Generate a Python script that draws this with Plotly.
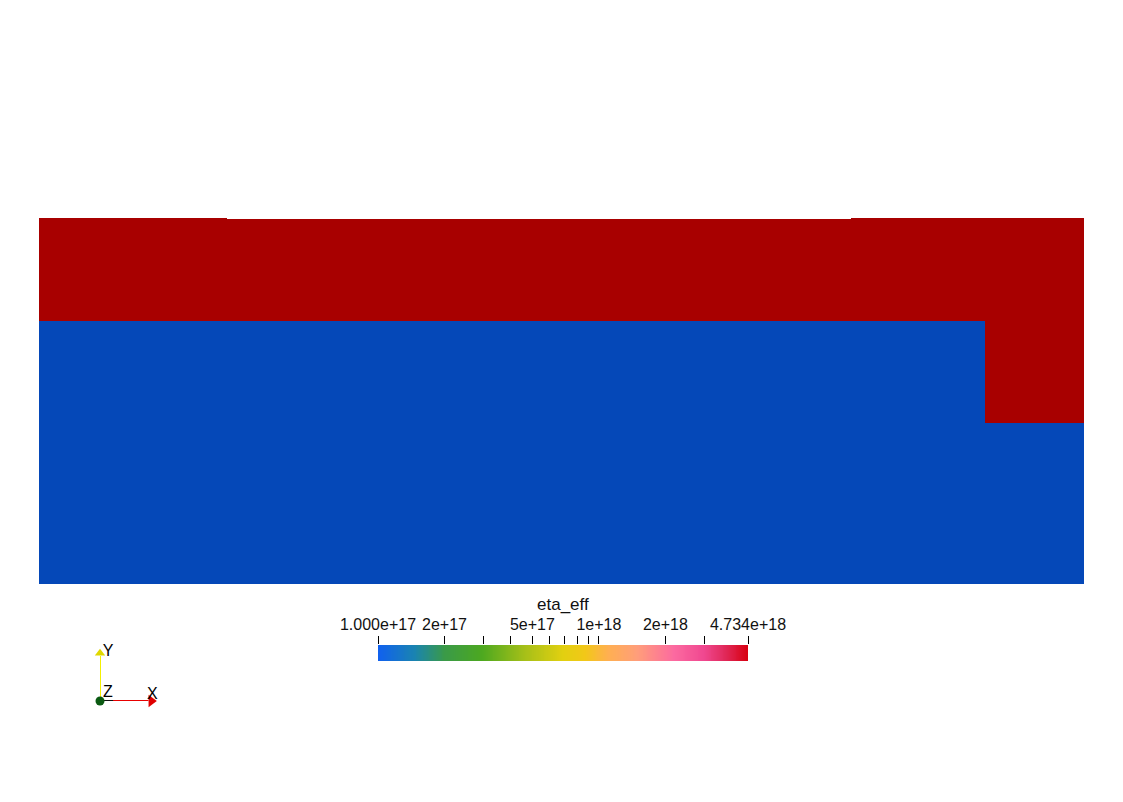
import numpy as np
import plotly.graph_objects as go

W, H = 1123, 802
OFF = 8  # page body margin in the browser

# ---- model domain (km) and effective viscosity field ----
x_edges = [0, 360, 1554, 1810, 2000]
y_edges = [-700, -392, -197, -2, 0]
ETA_MIN, ETA_MAX = 1.0e17, 4.734e18
eta_rows = [
    [ETA_MIN, ETA_MIN, ETA_MIN, ETA_MIN],
    [ETA_MIN, ETA_MIN, ETA_MIN, ETA_MAX],
    [ETA_MAX, ETA_MAX, ETA_MAX, ETA_MAX],
    [ETA_MAX, np.nan, ETA_MAX, ETA_MAX],
]

# ---- colour bar ----
cbar_tick_values = [1e17, 2e17, 3e17, 4e17, 5e17, 6e17, 7e17, 8e17, 9e17,
                    1e18, 2e18, 3e18, 4.734e18]
cbar_tick_labels = ["1.000e+17", "2e+17", "", "", "5e+17", "", "", "", "",
                    "1e+18", "2e+18", "", "4.734e+18"]
cbar_colors = [
    [0.00, "#1060f0"], [0.10, "#1a84b0"], [0.18, "#3a9a48"], [0.28, "#4ca820"],
    [0.40, "#a8c018"], [0.50, "#e2d010"], [0.56, "#f2c818"], [0.62, "#ffb050"],
    [0.70, "#ff9e7a"], [0.80, "#fc6aa0"], [0.88, "#f04890"], [0.94, "#e02858"],
    [1.00, "#d80010"],
]
mesh_colors = [[0, "#0548b8"], [1, "#a80000"]]

# ---- orientation triad (unit vectors) ----
triad_origin = [0, 0]
triad_x_end = [1, 0]
triad_y_end = [0, 1]


def dom_x(a, b):
    return [(a - OFF) / W, (b - OFF) / W]


def dom_y(top, bottom):
    return [1 - (bottom - OFF) / H, 1 - (top - OFF) / H]


lmin, lmax = np.log10(ETA_MIN), np.log10(ETA_MAX)
z = np.log10(np.array(eta_rows, dtype=float))

fig = go.Figure()

fig.add_trace(go.Heatmap(
    x=x_edges, y=y_edges, z=z, zmin=lmin, zmax=lmax,
    colorscale=mesh_colors, showscale=False, hoverinfo="skip",
    xaxis="x", yaxis="y"))

grad = np.linspace(lmin, lmax, 400)
fig.add_trace(go.Heatmap(
    x=grad, y=[0, 1], z=[grad], zmin=lmin, zmax=lmax,
    colorscale=cbar_colors, showscale=False, hoverinfo="skip",
    xaxis="x2", yaxis="y2"))

# triad
fig.add_trace(go.Scatter(x=[triad_origin[0], triad_y_end[0]], y=[triad_origin[1], triad_y_end[1] * 0.85],
                         mode="lines", line=dict(color="#f4f000", width=2),
                         xaxis="x3", yaxis="y3", cliponaxis=False, hoverinfo="skip"))
fig.add_trace(go.Scatter(x=[triad_origin[0], triad_x_end[0] * 0.85], y=[triad_origin[1], triad_x_end[1]],
                         mode="lines", line=dict(color="#e80000", width=2),
                         xaxis="x3", yaxis="y3", cliponaxis=False, hoverinfo="skip"))
fig.add_trace(go.Scatter(x=[triad_x_end[0] * 0.07, triad_x_end[0] * 0.23], y=[0, 0],
                         mode="lines", line=dict(color="#111111", width=2),
                         xaxis="x3", yaxis="y3", cliponaxis=False, hoverinfo="skip"))
fig.add_trace(go.Scatter(x=[triad_y_end[0]], y=[triad_y_end[1] * 0.9],
                         mode="markers", marker=dict(symbol="triangle-up", size=9, color="#e0d800"),
                         xaxis="x3", yaxis="y3", cliponaxis=False, hoverinfo="skip"))
fig.add_trace(go.Scatter(x=[triad_x_end[0] * 0.9], y=[triad_x_end[1]],
                         mode="markers", marker=dict(symbol="triangle-right", size=11, color="#e00000"),
                         xaxis="x3", yaxis="y3", cliponaxis=False, hoverinfo="skip"))
fig.add_trace(go.Scatter(x=[triad_origin[0]], y=[triad_origin[1]],
                         mode="markers", marker=dict(symbol="circle", size=9, color="#0b5a12"),
                         xaxis="x3", yaxis="y3", cliponaxis=False, hoverinfo="skip"))
fig.add_trace(go.Scatter(x=[0.14, 0.92, 0.14], y=[0.92, 0.11, 0.15], text=["Y", "X", "Z"],
                         mode="text", textfont=dict(family="Liberation Sans", size=16, color="#000000"),
                         xaxis="x3", yaxis="y3", cliponaxis=False, hoverinfo="skip"))

hidden = dict(visible=False, showgrid=False, zeroline=False)

fig.update_layout(
    width=W, height=H,
    autosize=False,
    margin=dict(l=0, r=0, t=0, b=0, pad=0, autoexpand=False),
    paper_bgcolor="white", plot_bgcolor="white",
    showlegend=False,
    xaxis=dict(domain=dom_x(39, 1084), range=[x_edges[0], x_edges[-1]], **hidden),
    yaxis=dict(domain=dom_y(218, 584), range=[y_edges[0], y_edges[-1]], **hidden),
    xaxis2=dict(domain=dom_x(378, 748), range=[lmin, lmax], anchor="y2", side="top",
                showgrid=False, zeroline=False, showline=False, automargin=False,
                ticks="outside", ticklen=8, tickwidth=1, tickcolor="#000000",
                tickvals=[np.log10(v) for v in cbar_tick_values], ticktext=cbar_tick_labels,
                tickfont=dict(family="Liberation Sans", size=16, color="#111111")),
    yaxis2=dict(domain=dom_y(645, 661), range=[0, 1], anchor="x2", **hidden),
    xaxis3=dict(domain=dom_x(100, 157), range=[0, 1], anchor="y3", **hidden),
    yaxis3=dict(domain=dom_y(648, 701), range=[0, 1], anchor="x3", **hidden),
    annotations=[dict(text="eta_eff", x=(563 - OFF) / W, y=1 - (604 - OFF) / H, xref="paper", yref="paper",
                      showarrow=False, xanchor="center", yanchor="middle",
                      font=dict(family="Liberation Sans", size=17, color="#111111"))],
)

fig.write_html("out.html", config={"displayModeBar": False})
